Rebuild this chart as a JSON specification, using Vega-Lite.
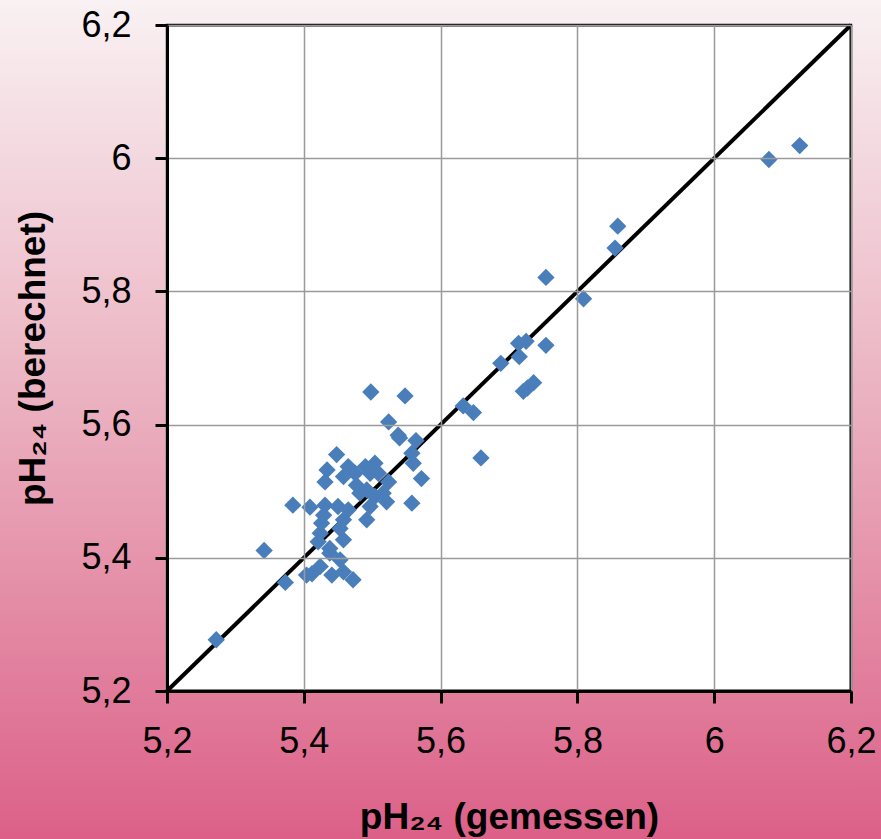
{
  "$schema": "https://vega.github.io/schema/vega-lite/v6.json",
  "width": 684,
  "height": 666,
  "autosize": {"type": "none"},
  "padding": {"left": 167, "top": 25, "right": 30, "bottom": 148},
  "background": "#ffffff",
  "config": {
    "view": {"stroke": "#000000", "strokeWidth": 3, "fill": "#ffffff"},
    "font": "Liberation Sans",
    "axis": {
      "labelFont": "Liberation Sans",
      "labelFontSize": 36,
      "labelColor": "#000000",
      "labelFlush": false,
      "labelOverlap": false,
      "titleFont": "Liberation Sans",
      "titleFontSize": 37,
      "titleFontWeight": "bold",
      "titleColor": "#000000",
      "domainColor": "#000000",
      "domainWidth": 3,
      "tickColor": "#000000",
      "tickWidth": 3,
      "tickSize": 12,
      "gridColor": "#9a9a9a",
      "gridWidth": 1.5,
      "gridOpacity": 1
    }
  },
  "datasets": {
    "points": [
      {"gemessen": 5.272, "berechnet": 5.277},
      {"gemessen": 5.342, "berechnet": 5.411},
      {"gemessen": 5.373, "berechnet": 5.363},
      {"gemessen": 5.384, "berechnet": 5.479},
      {"gemessen": 5.404, "berechnet": 5.374},
      {"gemessen": 5.409, "berechnet": 5.476},
      {"gemessen": 5.412, "berechnet": 5.376},
      {"gemessen": 5.424, "berechnet": 5.387},
      {"gemessen": 5.438, "berechnet": 5.407},
      {"gemessen": 5.453, "berechnet": 5.397},
      {"gemessen": 5.441, "berechnet": 5.374},
      {"gemessen": 5.458, "berechnet": 5.379},
      {"gemessen": 5.472, "berechnet": 5.367},
      {"gemessen": 5.421, "berechnet": 5.424},
      {"gemessen": 5.424, "berechnet": 5.437},
      {"gemessen": 5.426, "berechnet": 5.452},
      {"gemessen": 5.429, "berechnet": 5.464},
      {"gemessen": 5.431, "berechnet": 5.479},
      {"gemessen": 5.438, "berechnet": 5.414},
      {"gemessen": 5.458, "berechnet": 5.427},
      {"gemessen": 5.453, "berechnet": 5.444},
      {"gemessen": 5.458, "berechnet": 5.457},
      {"gemessen": 5.450, "berechnet": 5.477},
      {"gemessen": 5.465, "berechnet": 5.472},
      {"gemessen": 5.482, "berechnet": 5.497},
      {"gemessen": 5.497, "berechnet": 5.477},
      {"gemessen": 5.492, "berechnet": 5.457},
      {"gemessen": 5.504, "berechnet": 5.492},
      {"gemessen": 5.516, "berechnet": 5.497},
      {"gemessen": 5.521, "berechnet": 5.484},
      {"gemessen": 5.492, "berechnet": 5.502},
      {"gemessen": 5.477, "berechnet": 5.509},
      {"gemessen": 5.504, "berechnet": 5.542},
      {"gemessen": 5.497, "berechnet": 5.527},
      {"gemessen": 5.490, "berechnet": 5.537},
      {"gemessen": 5.475, "berechnet": 5.527},
      {"gemessen": 5.458, "berechnet": 5.522},
      {"gemessen": 5.465, "berechnet": 5.537},
      {"gemessen": 5.431, "berechnet": 5.514},
      {"gemessen": 5.434, "berechnet": 5.532},
      {"gemessen": 5.448, "berechnet": 5.555},
      {"gemessen": 5.509, "berechnet": 5.527},
      {"gemessen": 5.524, "berechnet": 5.514},
      {"gemessen": 5.558, "berechnet": 5.482},
      {"gemessen": 5.572, "berechnet": 5.519},
      {"gemessen": 5.560, "berechnet": 5.542},
      {"gemessen": 5.558, "berechnet": 5.557},
      {"gemessen": 5.564, "berechnet": 5.576},
      {"gemessen": 5.540, "berechnet": 5.580},
      {"gemessen": 5.538, "berechnet": 5.584},
      {"gemessen": 5.524, "berechnet": 5.604},
      {"gemessen": 5.498, "berechnet": 5.649},
      {"gemessen": 5.548, "berechnet": 5.643},
      {"gemessen": 5.633, "berechnet": 5.628},
      {"gemessen": 5.648, "berechnet": 5.618},
      {"gemessen": 5.659, "berechnet": 5.550},
      {"gemessen": 5.688, "berechnet": 5.692},
      {"gemessen": 5.715, "berechnet": 5.702},
      {"gemessen": 5.714, "berechnet": 5.722},
      {"gemessen": 5.725, "berechnet": 5.725},
      {"gemessen": 5.754, "berechnet": 5.719},
      {"gemessen": 5.721, "berechnet": 5.650},
      {"gemessen": 5.727, "berechnet": 5.655},
      {"gemessen": 5.736, "berechnet": 5.663},
      {"gemessen": 5.754, "berechnet": 5.821},
      {"gemessen": 5.809, "berechnet": 5.789},
      {"gemessen": 5.855, "berechnet": 5.865},
      {"gemessen": 5.859, "berechnet": 5.898},
      {"gemessen": 6.080, "berechnet": 5.998},
      {"gemessen": 6.125, "berechnet": 6.019}
    ],
    "diagonal": [
      {"gemessen": 5.2, "berechnet": 5.2},
      {"gemessen": 6.2, "berechnet": 6.2}
    ],
    "backdrop": [{"part": "background"}]
  },
  "layer": [
    {
      "data": {"name": "backdrop"},
      "mark": {"type": "rect", "clip": false, "fill": {"gradient": "linear", "x1": 0, "y1": 0, "x2": 0, "y2": 1, "stops": [{"offset": 0, "color": "#f9f1f3"}, {"offset": 0.5, "color": "#eaaebe"}, {"offset": 1, "color": "#dc6088"}]}},
      "encoding": {
        "x": {"datum": 4.9, "type": "quantitative", "scale": {"domain": [5.2, 6.2], "nice": false, "zero": false},
          "axis": {"values": [5.2, 5.4, 5.6, 5.8, 6.0, 6.2], "labelExpr": "replace(format(datum.value, '.1~f'), '.', ',')", "title": "pH₂₄ (gemessen)", "labelPadding": 21, "titlePadding": 40, "grid": true, "zindex": 1}},
        "x2": {"datum": 5.197807},
        "y": {"datum": 4.977778, "type": "quantitative", "scale": {"domain": [5.2, 6.2], "nice": false, "zero": false},
          "axis": {"values": [5.2, 5.4, 5.6, 5.8, 6.0, 6.2], "labelExpr": "replace(format(datum.value, '.1~f'), '.', ',')", "title": "pH₂₄ (berechnet)", "labelPadding": 24, "titlePadding": 28, "grid": true, "zindex": 1}},
        "y2": {"datum": 6.237538}
      }
    },
    {
      "data": {"name": "backdrop"},
      "mark": {"type": "rect", "clip": false, "fill": {"gradient": "linear", "x1": 0, "y1": 0, "x2": 0, "y2": 1, "stops": [{"offset": 0, "color": "#f9f1f3"}, {"offset": 0.5, "color": "#eaaebe"}, {"offset": 1, "color": "#dc6088"}]}},
      "encoding": {
        "x": {"datum": 6.202193, "type": "quantitative"},
        "x2": {"datum": 6.3},
        "y": {"datum": 4.977778, "type": "quantitative"},
        "y2": {"datum": 6.237538}
      }
    },
    {
      "data": {"name": "backdrop"},
      "mark": {"type": "rect", "clip": false, "fill": {"gradient": "linear", "x1": 0, "y1": 0, "x2": 0, "y2": 1, "stops": [{"offset": 0, "color": "#f9f1f3"}, {"offset": 1, "color": "#f8edf0"}]}},
      "encoding": {
        "x": {"datum": 5.19, "type": "quantitative"},
        "x2": {"datum": 6.21},
        "y": {"datum": 6.202252, "type": "quantitative"},
        "y2": {"datum": 6.237538}
      }
    },
    {
      "data": {"name": "backdrop"},
      "mark": {"type": "rect", "clip": false, "fill": {"gradient": "linear", "x1": 0, "y1": 0, "x2": 0, "y2": 1, "stops": [{"offset": 0, "color": "#e17c9b"}, {"offset": 1, "color": "#dc6088"}]}},
      "encoding": {
        "x": {"datum": 5.19, "type": "quantitative"},
        "x2": {"datum": 6.21},
        "y": {"datum": 4.977778, "type": "quantitative"},
        "y2": {"datum": 5.197748}
      }
    },
    {
      "data": {"name": "diagonal"},
      "mark": {"type": "line", "color": "#000000", "strokeWidth": 4},
      "encoding": {
        "x": {"field": "gemessen", "type": "quantitative"},
        "y": {"field": "berechnet", "type": "quantitative"}
      }
    },
    {
      "data": {"name": "points"},
      "mark": {"type": "point", "shape": "diamond", "filled": true, "size": 300, "color": "#4a7ebb", "opacity": 1},
      "encoding": {
        "x": {"field": "gemessen", "type": "quantitative"},
        "y": {"field": "berechnet", "type": "quantitative"}
      }
    }
  ]
}
